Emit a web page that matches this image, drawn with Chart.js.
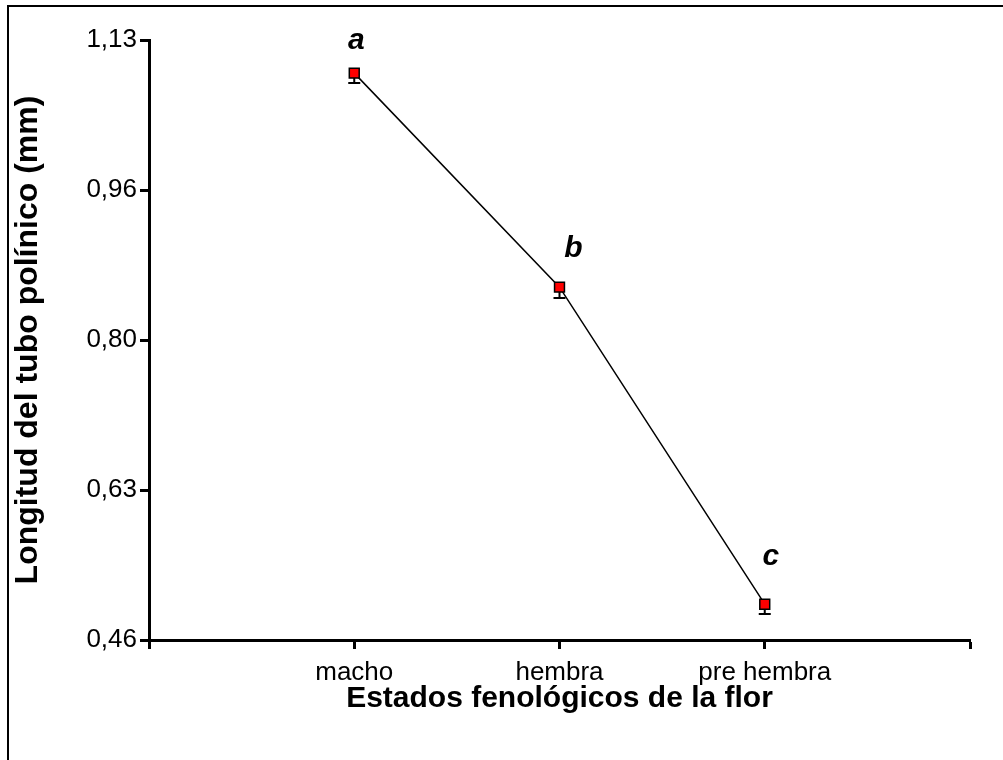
<!DOCTYPE html>
<html>
<head>
<meta charset="utf-8">
<script src="https://cdn.jsdelivr.net/npm/chart.js@4/dist/chart.umd.min.js"></script>
<style>
  html, body { margin: 0; padding: 0; background: #fff; }
  canvas { display: block; }
</style>
</head>
<body>
<canvas id="chart" width="1003" height="760"></canvas>
<script>
// --- Data ---
const categories = ['macho', 'hembra', 'pre hembra'];
const means = [1.093, 0.854, 0.500];
const errLow = [0.011, 0.012, 0.011];
const letters = ['a', 'b', 'c'];
const yTickLabels = ['0,46', '0,63', '0,80', '0,96', '1,13'];
const yMin = 0.46;
const yMax = 1.13;

const fontFamily = '"Liberation Sans", Arial, sans-serif';
const tickFont = { family: fontFamily, size: 26 };

// thin frame on the left and top edges of the picture
const framePlugin = {
    id: 'frame',
    afterDraw(chart) {
        const ctx = chart.ctx;
        ctx.save();
        ctx.strokeStyle = '#000';
        ctx.lineWidth = 2;
        ctx.beginPath();
        ctx.moveTo(8, chart.height);
        ctx.lineTo(8, 6);
        ctx.lineTo(chart.width, 6);
        ctx.stroke();
        ctx.restore();
    }
};

// lower error bars, drawn under the markers
const errorBarPlugin = {
    id: 'errorBars',
    beforeDatasetsDraw(chart) {
        const ctx = chart.ctx;
        const yScale = chart.scales.y;
        const meta = chart.getDatasetMeta(0);
        ctx.save();
        ctx.strokeStyle = '#000';
        ctx.lineWidth = 2;
        meta.data.forEach((pt, i) => {
            const yLow = yScale.getPixelForValue(means[i] - errLow[i]);
            ctx.beginPath();
            ctx.moveTo(pt.x, pt.y);
            ctx.lineTo(pt.x, yLow);
            ctx.moveTo(pt.x - 6, yLow);
            ctx.lineTo(pt.x + 6, yLow);
            ctx.stroke();
        });
        ctx.restore();
    }
};

// significance letters above each point
const letterPlugin = {
    id: 'letters',
    afterDatasetsDraw(chart) {
        const ctx = chart.ctx;
        const meta = chart.getDatasetMeta(0);
        const offsets = [[2, -32], [14, -38], [6, -47]];
        ctx.save();
        ctx.fillStyle = '#000';
        ctx.font = 'italic bold 30px ' + fontFamily;
        ctx.textAlign = 'center';
        ctx.textBaseline = 'middle';
        meta.data.forEach((pt, i) => {
            ctx.fillText(letters[i], pt.x + offsets[i][0], pt.y + offsets[i][1]);
        });
        ctx.restore();
    }
};

new Chart(document.getElementById('chart').getContext('2d'), {
    type: 'line',
    data: {
        datasets: [{
            data: means.map((v, i) => ({ x: i + 1, y: v })),
            borderColor: '#000',
            borderWidth: 1.5,
            tension: 0,
            pointStyle: 'rect',
            pointRadius: 7,
            pointBackgroundColor: '#ff0000',
            pointBorderColor: '#000',
            pointBorderWidth: 1.5
        }]
    },
    options: {
        responsive: false,
        animation: false,
        devicePixelRatio: 1,
        layout: { padding: { left: 0, top: 40, right: 33, bottom: 0 } },
        plugins: {
            legend: { display: false },
            tooltip: { enabled: false }
        },
        scales: {
            x: {
                type: 'linear',
                min: 0,
                max: 4,
                afterBuildTicks: (scale) => {
                    scale.ticks = [0, 1, 2, 3, 4].map(v => ({ value: v }));
                },
                afterFit: (scale) => { scale.height = 120; },
                ticks: {
                    color: '#000',
                    font: tickFont,
                    padding: 8,
                    maxRotation: 0,
                    autoSkip: false,
                    callback: (v) => categories[v - 1] || ''
                },
                grid: {
                    drawOnChartArea: false,
                    drawTicks: true,
                    tickLength: 9,
                    tickWidth: 3,
                    tickColor: '#000'
                },
                border: { display: true, color: '#000', width: 3 },
                title: {
                    display: true,
                    text: 'Estados fenológicos de la flor',
                    color: '#000',
                    font: { family: fontFamily, size: 30, weight: 'bold' },
                    padding: { top: 0, bottom: 43 }
                }
            },
            y: {
                type: 'linear',
                min: yMin,
                max: yMax,
                afterBuildTicks: (scale) => {
                    scale.ticks = yTickLabels.map((_, i) => ({ value: yMin + i * (yMax - yMin) / 4 }));
                },
                afterFit: (scale) => { scale.width = 149; },
                ticks: {
                    color: '#000',
                    font: tickFont,
                    padding: 3,
                    autoSkip: false,
                    callback: (v, i) => yTickLabels[i]
                },
                grid: {
                    drawOnChartArea: false,
                    drawTicks: true,
                    tickLength: 9,
                    tickWidth: 3,
                    tickColor: '#000'
                },
                border: { display: true, color: '#000', width: 3 },
                title: {
                    display: true,
                    text: 'Longitud del tubo polínico (mm)',
                    color: '#000',
                    font: { family: fontFamily, size: 32, weight: 'bold' },
                    padding: { top: 9, bottom: 0 }
                }
            }
        }
    },
    plugins: [framePlugin, errorBarPlugin, letterPlugin]
});
</script>
</body>
</html>
